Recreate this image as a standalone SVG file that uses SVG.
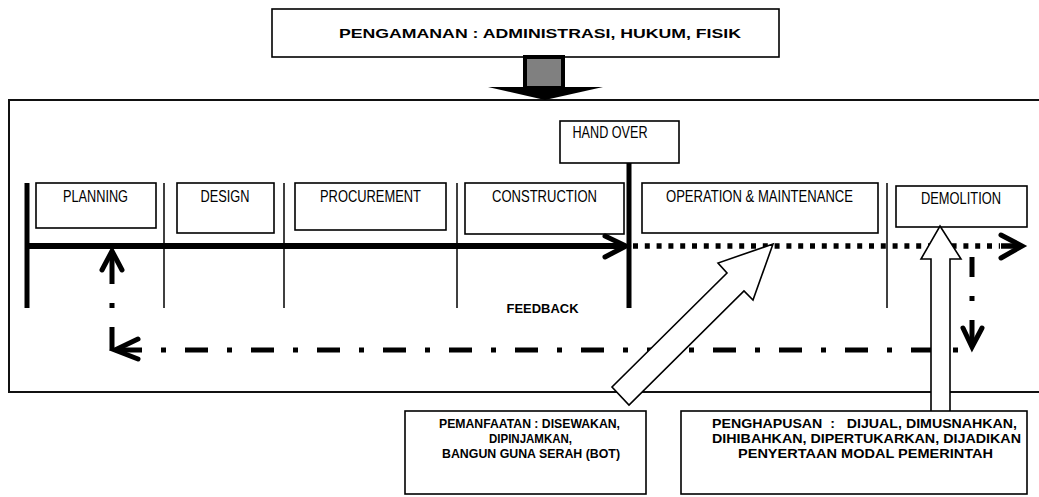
<svg xmlns="http://www.w3.org/2000/svg" width="1039" height="497" viewBox="0 0 1039 497">
<style>
.box{fill:#fff;stroke:#000;stroke-width:1.6}
.frame{fill:none;stroke:#111;stroke-width:2}
.lbl{font-family:"Liberation Sans",Arial,sans-serif;font-size:16.5px;text-anchor:middle;fill:#000}
.bold{font-family:"Liberation Sans",Arial,sans-serif;font-weight:bold;font-size:13px;text-anchor:middle;fill:#000}
.thin{stroke:#000;stroke-width:1.5;fill:none}
.thick{stroke:#000;stroke-width:5;fill:none}
.chev{stroke:#000;stroke-width:5;fill:none;stroke-linecap:round;stroke-linejoin:miter}
.dd{stroke:#000;stroke-width:5;fill:none}
.white{fill:#fff;stroke:#000;stroke-width:1.6;stroke-linejoin:miter}
</style>
<rect width="1039" height="497" fill="#fff"/>

<g id="frame">
<rect class="frame" x="9" y="100" width="1040" height="292"/>
</g>

<g id="title">
<rect class="box" x="272" y="9" width="507" height="48"/>
<text class="bold" x="540" y="37.5" font-size="17.5" textLength="402" lengthAdjust="spacingAndGlyphs">PENGAMANAN : ADMINISTRASI, HUKUM, FISIK</text>
</g>

<g id="down-arrow">
<rect x="525" y="57" width="38" height="31" fill="#808080" stroke="#000" stroke-width="4"/>
<polygon points="488,87 603,87 545,100" fill="#000"/>
</g>

<g id="dividers">
<line class="thin" x1="164" y1="183" x2="164" y2="308"/>
<line class="thin" x1="284" y1="183" x2="284" y2="308"/>
<line class="thin" x1="457" y1="183" x2="457" y2="308"/>
<line class="thin" x1="887" y1="183" x2="887" y2="308"/>
<line class="thick" x1="27" y1="183" x2="27" y2="308"/>
<line class="thick" x1="629" y1="163" x2="629" y2="308"/>
</g>

<g id="planning">
<rect class="box" x="36" y="183" width="120" height="45"/>
<text class="lbl" x="95.5" y="201.5" textLength="65" lengthAdjust="spacingAndGlyphs">PLANNING</text>
</g>
<g id="design">
<rect class="box" x="177" y="183" width="97" height="50"/>
<text class="lbl" x="225" y="201.5" textLength="49" lengthAdjust="spacingAndGlyphs">DESIGN</text>
</g>
<g id="procurement">
<rect class="box" x="295" y="183" width="151" height="47"/>
<text class="lbl" x="370.5" y="201.5" textLength="101" lengthAdjust="spacingAndGlyphs">PROCUREMENT</text>
</g>
<g id="construction">
<rect class="box" x="465" y="183" width="159" height="51"/>
<text class="lbl" x="544.5" y="201.5" textLength="105" lengthAdjust="spacingAndGlyphs">CONSTRUCTION</text>
</g>
<g id="handover">
<rect class="box" x="560" y="121" width="119" height="42"/>
<text class="lbl" x="610" y="137.5" textLength="75" lengthAdjust="spacingAndGlyphs">HAND OVER</text>
</g>
<g id="operation">
<rect class="box" x="642" y="183" width="236" height="50"/>
<text class="lbl" x="759.5" y="201.5" textLength="187" lengthAdjust="spacingAndGlyphs">OPERATION &amp; MAINTENANCE</text>
</g>
<g id="demolition">
<rect class="box" x="896" y="186" width="131" height="41"/>
<text class="lbl" x="961" y="203.5" textLength="80" lengthAdjust="spacingAndGlyphs">DEMOLITION</text>
</g>

<g id="connectors">
<line x1="27" y1="246" x2="624" y2="246" stroke="#000" stroke-width="6"/>
<polyline class="chev" points="605,236 626,246 605,257"/>
<line x1="633" y1="246" x2="1000" y2="246" stroke="#000" stroke-width="5.5" stroke-dasharray="5 6.8"/>
<line x1="1001" y1="246" x2="1019" y2="246" stroke="#000" stroke-width="5.5"/>
<polyline class="chev" points="1001,235 1022,246 1001,258"/>
<line class="dd" x1="972" y1="257" x2="972" y2="345" stroke-dasharray="20 19 5 19 30"/>
<polyline class="chev" points="963,328 972,347 982,328"/>
<line class="dd" x1="119" y1="350" x2="960" y2="350" stroke-dasharray="23 19 5 19"/>
<polyline class="chev" points="138,339 115,350 138,359"/>
<line class="dd" x1="112" y1="350" x2="112" y2="303" stroke-dasharray="23 19 5 19"/>
<line class="dd" x1="112" y1="284" x2="112" y2="252"/>
<polyline class="chev" points="102,270 112,251 122,270"/>
</g>

<g id="feedback-label">
<text class="bold" x="542.5" y="312.5" font-size="14.5" textLength="72" lengthAdjust="spacingAndGlyphs">FEEDBACK</text>
</g>

<g id="pemanfaatan-arrow">
<polygon class="white" points="773,244 753,300 744,291 629,405 612,387 727,273 718,263"/>
</g>
<g id="penghapusan-arrow">
<polygon class="white" points="940,226 961,259 950,259 950,412 931,412 931,259 921,259"/>
</g>

<g id="pemanfaatan">
<rect class="box" x="405" y="411" width="241" height="83"/>
<text class="bold" x="529.5" y="427.5" textLength="181" lengthAdjust="spacingAndGlyphs">PEMANFAATAN : DISEWAKAN,</text>
<text class="bold" x="530.5" y="442.5" textLength="83" lengthAdjust="spacingAndGlyphs">DIPINJAMKAN,</text>
<text class="bold" x="531" y="457.5" textLength="178" lengthAdjust="spacingAndGlyphs">BANGUN GUNA SERAH (BOT)</text>
</g>
<g id="penghapusan">
<rect class="box" x="681" y="411" width="346" height="83"/>
<text class="bold" x="864.5" y="427.5" textLength="305" lengthAdjust="spacingAndGlyphs" xml:space="preserve">PENGHAPUSAN  :   DIJUAL, DIMUSNAHKAN,</text>
<text class="bold" x="866.5" y="442.5" textLength="309" lengthAdjust="spacingAndGlyphs">DIHIBAHKAN, DIPERTUKARKAN, DIJADIKAN</text>
<text class="bold" x="865.5" y="457.5" textLength="255" lengthAdjust="spacingAndGlyphs">PENYERTAAN MODAL PEMERINTAH</text>
</g>
</svg>
